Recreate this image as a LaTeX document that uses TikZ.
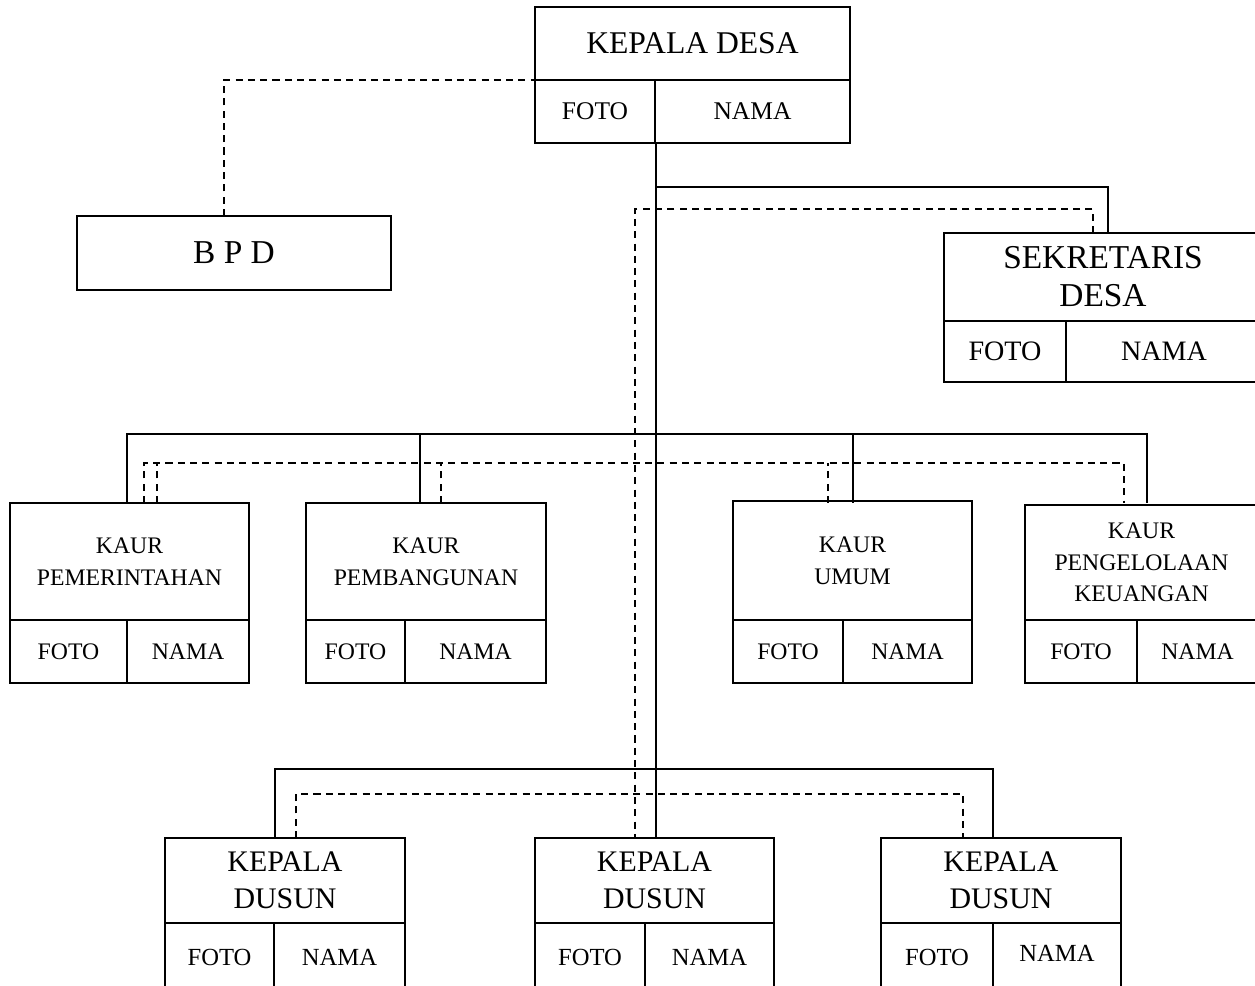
\documentclass[tikz,border=0pt]{standalone}
\usepackage{fontspec}
\setmainfont{Liberation Serif}
\usepackage{tikz}
\tikzstyle{kotak}=[shape=rectangle,draw,line width=1pt,inner sep=0pt,align=center]
\tikzstyle{garis}=[line width=1pt]
\tikzstyle{putus}=[line width=1pt,dash pattern=on 4pt off 3pt]
\tikzstyle{fkades}=[font=\fontsize{14.5}{17}\selectfont]
\tikzstyle{fkaur}=[font=\fontsize{13.5}{18}\selectfont]
\tikzstyle{fdsn}=[font=\fontsize{14}{17}\selectfont]

\begin{document}
\begin{tikzpicture}[x=0.02cm,y=-0.02cm]
            \useasboundingbox (0,0) rectangle (1255,986);
            \clip (0,0) rectangle (1255,986);
            % kepala desa
            \node[kotak, minimum width=6.3cm, minimum height=1.46cm, font=\fontsize{18}{22}\selectfont] (kades) at (692.5,43.5) {KEPALA DESA};
            \node[kotak, fkades, minimum width=2.4cm, minimum height=1.26cm] (kadesfoto) at (595,111.5) {FOTO};
            \node[kotak, fkades, minimum width=3.9cm, minimum height=1.26cm] (kadesnama) at (752.5,111.5) {NAMA};
            % bpd
            \node[kotak, minimum width=6.28cm, minimum height=1.48cm, font=\fontsize{19}{22}\selectfont] (bpd) at (234,253) {B P D};
            % sekretaris desa
            \node[kotak, minimum width=6.36cm, minimum height=1.76cm, font=\fontsize{19}{21.5}\selectfont] (sekdes) at (1103,277) {SEKRETARIS\\DESA};
            \node[kotak, minimum width=2.44cm, minimum height=1.22cm, font=\fontsize{16}{19}\selectfont] (sekdesfoto) at (1005,351.5) {FOTO};
            \node[kotak, minimum width=3.92cm, minimum height=1.22cm, font=\fontsize{16}{19}\selectfont] (sekdesnama) at (1164,351.5) {NAMA};
            % kaur
            \node[kotak, fkaur, minimum width=4.78cm, minimum height=2.34cm] (kaur1) at (129.5,561.5) {KAUR\\PEMERINTAHAN};
            \node[kotak, fkaur, minimum width=2.34cm, minimum height=1.26cm] (kaur1foto) at (68.5,651.5) {FOTO};
            \node[kotak, fkaur, minimum width=2.44cm, minimum height=1.26cm] (kaur1nama) at (188,651.5) {NAMA};
            \node[kotak, fkaur, minimum width=4.8cm, minimum height=2.34cm] (kaur2) at (426,561.5) {KAUR\\PEMBANGUNAN};
            \node[kotak, fkaur, minimum width=1.98cm, minimum height=1.26cm] (kaur2foto) at (355.5,651.5) {FOTO};
            \node[kotak, fkaur, minimum width=2.82cm, minimum height=1.26cm] (kaur2nama) at (475.5,651.5) {NAMA};
            \node[kotak, fkaur, minimum width=4.78cm, minimum height=2.38cm] (kaur3) at (852.5,560.5) {KAUR\\UMUM};
            \node[kotak, fkaur, minimum width=2.2cm, minimum height=1.26cm] (kaur3foto) at (788,651.5) {FOTO};
            \node[kotak, fkaur, minimum width=2.58cm, minimum height=1.26cm] (kaur3nama) at (907.5,651.5) {NAMA};
            \node[kotak, fkaur, minimum width=4.66cm, minimum height=2.3cm] (kaur4) at (1141.5,562.5) {KAUR\\PENGELOLAAN\\KEUANGAN};
            \node[kotak, fkaur, minimum width=2.24cm, minimum height=1.26cm] (kaur4foto) at (1081,651.5) {FOTO};
            \node[kotak, fkaur, minimum width=2.42cm, minimum height=1.26cm] (kaur4nama) at (1197.5,651.5) {NAMA};
            % kepala dusun
            \node[kotak, minimum width=4.8cm, minimum height=1.7cm, font=\fontsize{17}{21}\selectfont] (dsn1) at (285,880.5) {KEPALA\\DUSUN};
            \node[kotak, fdsn, minimum width=2.18cm, minimum height=1.38cm] (dsn1foto) at (219.5,957.5) {FOTO};
            \node[kotak, fdsn, minimum width=2.62cm, minimum height=1.38cm] (dsn1nama) at (339.5,957.5) {NAMA};
            \node[kotak, minimum width=4.78cm, minimum height=1.7cm, font=\fontsize{17}{21}\selectfont] (dsn2) at (654.5,880.5) {KEPALA\\DUSUN};
            \node[kotak, fdsn, minimum width=2.2cm, minimum height=1.38cm] (dsn2foto) at (590,957.5) {FOTO};
            \node[kotak, fdsn, minimum width=2.58cm, minimum height=1.38cm] (dsn2nama) at (709.5,957.5) {NAMA};
            \node[kotak, minimum width=4.8cm, minimum height=1.7cm, font=\fontsize{17}{21}\selectfont] (dsn3) at (1001,880.5) {KEPALA\\DUSUN};
            \node[kotak, fdsn, minimum width=2.24cm, minimum height=1.38cm] (dsn3foto) at (937,957.5) {FOTO};
            \node[kotak, fdsn, minimum width=2.56cm, minimum height=1.38cm] (dsn3nama) at (1057,957.5) {\raisebox{0.15cm}{NAMA}};
            % titik sambung
            \coordinate (cabsek) at (655,187);
            \coordinate (sekin) at (1108,233);
            \coordinate (sekput) at (1093,233);
            \coordinate (putsek) at (635,209);
            \coordinate (bpdin) at (224,216);
            \coordinate (kadesin) at (580,80);
            \coordinate (barkaur) at (655,434);
            \coordinate (putkaur) at (635,463);
            \coordinate (k1a) at (127,503);
            \coordinate (k1b) at (144,503);
            \coordinate (k1c) at (157,503);
            \coordinate (k2a) at (420,503);
            \coordinate (k2b) at (441,503);
            \coordinate (k3a) at (853,503);
            \coordinate (k3b) at (828,503);
            \coordinate (k4a) at (1147,503);
            \coordinate (k4b) at (1124,503);
            \coordinate (bardsn) at (655,769);
            \coordinate (putdsn) at (635,794);
            \coordinate (d1a) at (275,838);
            \coordinate (d1b) at (296,838);
            \coordinate (d3a) at (993,838);
            \coordinate (d3b) at (963,838);
            % garis komando
            \draw[garis] (kadesfoto.south east) -- (kadesfoto.south east |- dsn2.north);
            \draw[garis] (cabsek) -| (sekin);
            \draw[garis] (k1a) |- (barkaur) -| (k4a);
            \draw[garis] (k2a) -- (k2a |- barkaur);
            \draw[garis] (k3a) -- (k3a |- barkaur);
            \draw[garis] (d1a) |- (bardsn) -| (d3a);
            % garis koordinasi
            \draw[putus] (bpdin) |- (kadesin);
            \draw[putus] (sekput) |- (putsek) -- (putsek |- dsn2.north);
            \draw[putus] (k1b) |- (putkaur) -| (k4b);
            \draw[putus] (k1c) -- (k1c |- putkaur);
            \draw[putus] (k2b) -- (k2b |- putkaur);
            \draw[putus] (k3b) -- (k3b |- putkaur);
            \draw[putus] (d1b) |- (putdsn) -| (d3b);
        \end{tikzpicture}
\end{document}
